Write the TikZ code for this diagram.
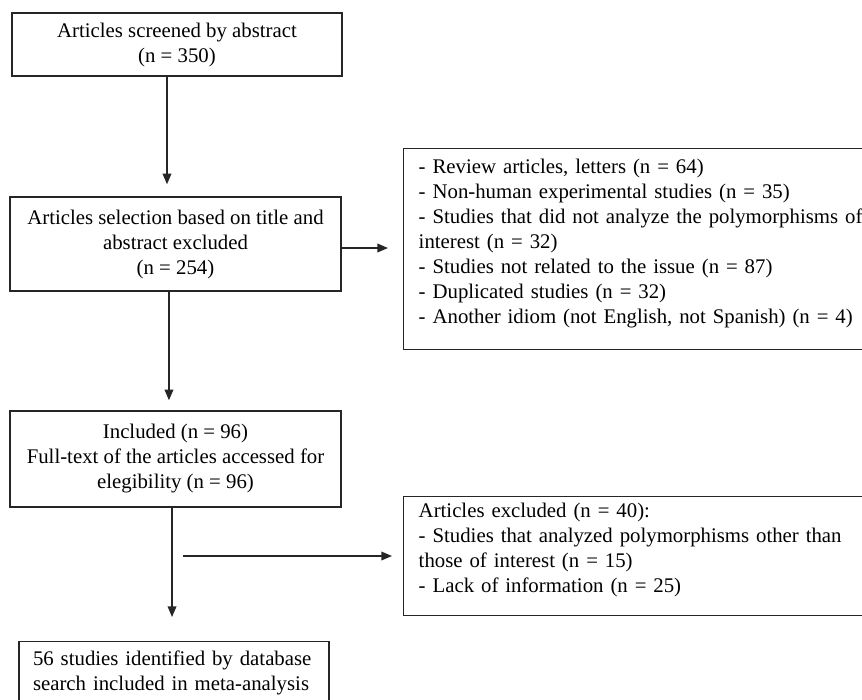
\documentclass[tikz,border=0pt]{standalone}
\usepackage{fontspec}
\setmainfont{Liberation Serif}
\usetikzlibrary{arrows.meta}
\begin{document}
\begin{tikzpicture}[x=0.75pt,y=-0.75pt]
	\tikzstyle{flow box}=[draw=black!85,line width=1.1pt,inner sep=0pt,font=\fontsize{15.6}{18.75}\selectfont]
	\tikzset{
		main box/.style={flow box,align=center,minimum width=248.25pt},
		list box/.style={flow box,align=left,anchor=north west,text width=345pt,inner xsep=11.25pt},
		flow arrow/.style={draw=black!85,line width=1.1pt,-{Triangle[length=8pt,width=6.5pt]}}
	}
	\useasboundingbox (0,0) rectangle (862,699);
	\clip (0,0) rectangle (862,699);
	\node(screened)[main box,minimum width=247.5pt,minimum height=47.25pt] at (177,44.5)
		{Articles screened by abstract\\(n = 350)};
	\node(selection)[main box,minimum height=70.5pt] at (175.5,244)
		{Articles selection based on title and\\abstract excluded\\(n = 254)};
	\node(reasons)[list box,minimum height=150.75pt] at (403,148)
		{- Review articles, letters (n = 64)\\
		 - Non-human experimental studies (n = 35)\\
		 - Studies that did not analyze the polymorphisms of\\
		 interest (n = 32)\\
		 - Studies not related to the issue (n = 87)\\
		 - Duplicated studies (n = 32)\\
		 - Another idiom (not English, not Spanish) (n = 4)\rule[-11.6pt]{0pt}{11.6pt}};
	\node(included)[main box,minimum height=72pt] at (175.5,459)
		{Included (n = 96)\\Full-text of the articles accessed for\\elegibility (n = 96)};
	\node(excluded)[list box,minimum height=89.25pt] at (403,496)
		{Articles excluded (n = 40):\\
		 - Studies that analyzed polymorphisms other than\\
		 those of interest (n = 15)\\
		 - Lack of information (n = 25)\rule[-12.4pt]{0pt}{12.4pt}};
	\node(meta)[flow box,align=left,anchor=north,text width=211.5pt,inner xsep=10.5pt,inner ysep=6.5pt] at (174,641)
		{56 studies identified by database\\search included in meta-analysis};
	\coordinate(split) at (183,556);
	\draw[flow arrow,shorten >=9pt]([xshift=-7.5pt]screened.south)to([xshift=-7.5pt]screened.south|-selection.north);
	\draw[flow arrow,shorten >=11.25pt]([yshift=-3pt]selection.east)to([yshift=-3pt]selection.east-|reasons.west);
	\draw[flow arrow,shorten >=7.5pt]([xshift=-4.9pt]selection.south)to([xshift=-4.9pt]selection.south|-included.north);
	\draw[flow arrow,shorten >=18pt]([xshift=-2.6pt]included.south)to([xshift=-2.6pt]included.south|-meta.north);
	\draw[flow arrow,shorten >=8.25pt](split)to(split-|excluded.west);
\end{tikzpicture}
\end{document}
